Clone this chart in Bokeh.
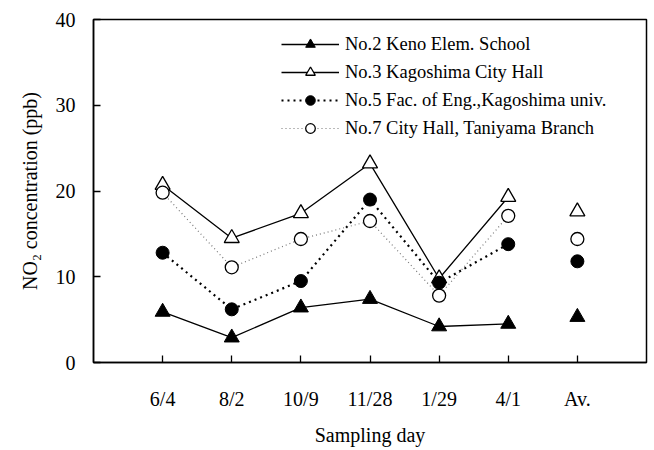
from bokeh.plotting import figure
from bokeh.models import Range1d, FixedTicker, Legend, LegendItem
from bokeh.embed import file_html
from bokeh.resources import INLINE

days = ["6/4", "8/2", "10/9", "11/28", "1/29", "4/1", "Av."]
no2_keno = [5.9, 2.9, 6.4, 7.4, 4.2, 4.5, 5.3]
no3_cityhall = [20.7, 14.5, 17.4, 23.2, 9.8, 19.3, 17.6]
no5_faceng = [12.8, 6.2, 9.5, 19.0, 9.3, 13.8, 11.8]
no7_taniyama = [19.8, 11.1, 14.4, 16.5, 7.8, 17.1, 14.4]
y_ticks = [0, 10, 20, 30, 40]
labels = ["No.2 Keno Elem. School", "No.3 Kagoshima City Hall",
          "No.5 Fac. of Eng.,Kagoshima univ.", "No.7 City Hall, Taniyama Branch"]

xs = list(range(len(days)))
n_days = len(days) - 1  # last one is average, not connected

FONT = "Liberation Serif"

p = figure(width=648, height=448, output_backend="svg", toolbar_location=None,
           x_range=Range1d(-1, len(days)), y_range=Range1d(0, 40),
           min_border_left=93, min_border_right=2, min_border_top=19, min_border_bottom=86)
p.grid.visible = False
p.outline_line_color = "black"
p.outline_line_width = 1.5
p.background_fill_color = "white"
p.border_fill_color = "white"

p.xaxis.ticker = FixedTicker(ticks=xs)
p.xaxis.major_label_overrides = {i: d for i, d in enumerate(days)}
p.yaxis.ticker = FixedTicker(ticks=y_ticks)
for ax in (p.xaxis, p.yaxis):
    ax.major_tick_in = 7
    ax.major_tick_out = 0
    ax.minor_tick_line_color = None
    ax.axis_line_width = 1.5
    ax.major_tick_line_width = 1.3
    ax.axis_line_color = "black"
    ax.major_tick_line_color = "black"
    ax.major_label_text_font = FONT
    ax.major_label_text_font_size = "20px"
    ax.major_label_text_color = "black"
    ax.axis_label_text_font = FONT
    ax.axis_label_text_font_size = "20px"
    ax.axis_label_text_font_style = "normal"
    ax.axis_label_text_color = "black"
p.xaxis.axis_label = "Sampling day"
p.yaxis.axis_label = "NO\u2082 concentration (ppb)"
p.xaxis.major_label_standoff = 25
p.xaxis.axis_label_standoff = 11
p.yaxis.major_label_standoff = 18
p.yaxis.axis_label_standoff = 12

# lines (first six sampling days only)
l2 = p.line(xs[:n_days], no2_keno[:n_days], line_color="black", line_width=1.3)
l3 = p.line(xs[:n_days], no3_cityhall[:n_days], line_color="black", line_width=1.3)
l5 = p.line(xs[:n_days], no5_faceng[:n_days], line_color="black", line_width=2.2, line_dash="2 4")
l7 = p.line(xs[:n_days], no7_taniyama[:n_days], line_color="#777777", line_width=1.2, line_dash="1 3")

# markers
s3 = p.scatter(xs, no3_cityhall, marker="triangle", size=15, fill_color="white",
               line_color="black", line_width=1.3)
s7 = p.scatter(xs, no7_taniyama, marker="circle", size=13, fill_color="white",
               line_color="black", line_width=1.3)
s5 = p.scatter(xs, no5_faceng, marker="circle", size=13, fill_color="black",
               line_color="black")
s2 = p.scatter(xs, no2_keno, marker="triangle", size=15, fill_color="black",
               line_color="black")

legend = Legend(items=[
    LegendItem(label=labels[0], renderers=[l2, s2]),
    LegendItem(label=labels[1], renderers=[l3, s3]),
    LegendItem(label=labels[2], renderers=[l5, s5]),
    LegendItem(label=labels[3], renderers=[l7, s7]),
], location=(188, 222))
legend.border_line_color = None
legend.background_fill_alpha = 0
legend.label_text_font = FONT
legend.label_text_font_size = "18.5px"
legend.label_text_color = "black"
legend.glyph_width = 58
legend.glyph_height = 24
legend.label_height = 24
legend.spacing = 4
legend.padding = 5
legend.margin = 0
legend.label_standoff = 6
p.add_layout(legend, "center")

open("out.html", "w").write(file_html(p, INLINE))
